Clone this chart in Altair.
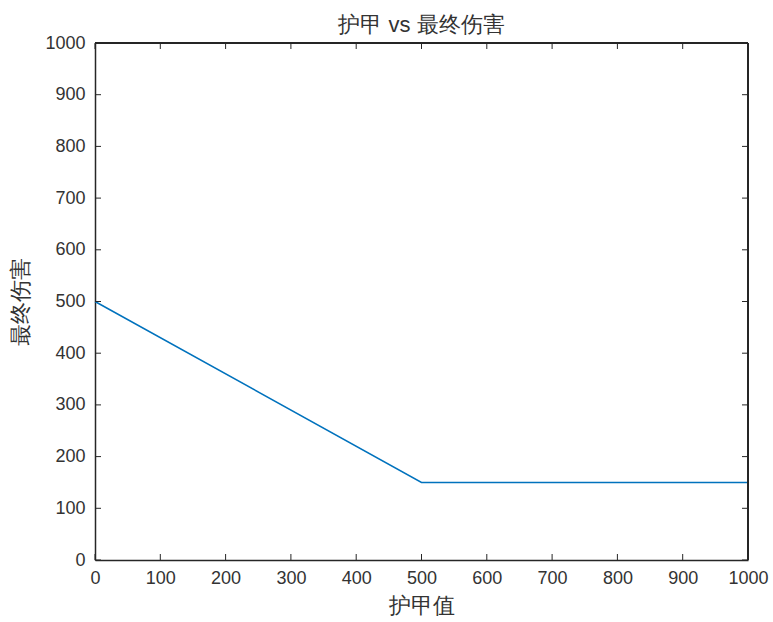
import altair as alt
import pandas as pd

armor = [0, 500, 1000]
damage = [500, 150, 150]
x_ticks = [0, 100, 200, 300, 400, 500, 600, 700, 800, 900, 1000]
y_ticks = [0, 100, 200, 300, 400, 500, 600, 700, 800, 900, 1000]

W, H = 653, 517
FONT = "Liberation Sans"
TXT = "#333333"
AX = "#262626"

df = pd.DataFrame({"armor": armor, "damage": damage})
xt = pd.DataFrame({"v": x_ticks})
yt = pd.DataFrame({"v": y_ticks})

xs = alt.Scale(domain=[0, 1000], nice=False, zero=False)
ys = alt.Scale(domain=[0, 1000], nice=False, zero=False)

line = alt.Chart(df).mark_line(color="#0072BD", strokeWidth=1.5).encode(
    x=alt.X("armor:Q", scale=xs, title="护甲值",
            axis=alt.Axis(values=x_ticks, format="d", tickSize=0, labelPadding=9, domain=True,
                          domainColor=AX, domainWidth=1.5, labelFontSize=18, titleFontSize=22,
                          labelFont=FONT, titleFont=FONT, labelColor=TXT, titleColor=TXT,
                          titleFontWeight="normal", grid=False, titlePadding=8,
                          labelFlush=False)),
    y=alt.Y("damage:Q", scale=ys, title="最终伤害",
            axis=alt.Axis(values=y_ticks, format="d", tickSize=0, labelPadding=10, domain=True,
                          domainColor=AX, domainWidth=1.5, labelFontSize=18, titleFontSize=22,
                          labelFont=FONT, titleFont=FONT, labelColor=TXT, titleColor=TXT,
                          titleFontWeight="normal", grid=False, titlePadding=12,
                          labelFlush=False)),
)

tl = 6
bottom_ticks = alt.Chart(xt).mark_rule(color=AX, strokeWidth=1).encode(
    x=alt.X("v:Q", scale=xs), y=alt.value(H), y2=alt.value(H - tl))
top_ticks = alt.Chart(xt).mark_rule(color=AX, strokeWidth=1).encode(
    x=alt.X("v:Q", scale=xs), y=alt.value(0), y2=alt.value(tl))
left_ticks = alt.Chart(yt).mark_rule(color=AX, strokeWidth=1).encode(
    y=alt.Y("v:Q", scale=ys), x=alt.value(0), x2=alt.value(tl))
right_ticks = alt.Chart(yt).mark_rule(color=AX, strokeWidth=1).encode(
    y=alt.Y("v:Q", scale=ys), x=alt.value(W), x2=alt.value(W - tl))
top_border = alt.Chart(xt).mark_rule(color=AX, strokeWidth=1.5).encode(
    x=alt.value(0), x2=alt.value(W), y=alt.value(0))
right_border = alt.Chart(xt).mark_rule(color=AX, strokeWidth=1.5).encode(
    x=alt.value(W), y=alt.value(0), y2=alt.value(H))

chart = alt.layer(line, bottom_ticks, top_ticks, left_ticks, right_ticks,
                  top_border, right_border).properties(
    width=W, height=H,
    title=alt.TitleParams("护甲 vs 最终伤害", font=FONT, fontSize=22, fontWeight="normal",
                          color=TXT, anchor="middle", offset=-3),
    autosize=alt.AutoSizeParams(type="none"),
    padding={"left": 95, "top": 43, "right": 25, "bottom": 62},
).configure_view(stroke=None).configure(background="white")

chart.save("out.html", embed_options={"renderer": "svg", "actions": False})
